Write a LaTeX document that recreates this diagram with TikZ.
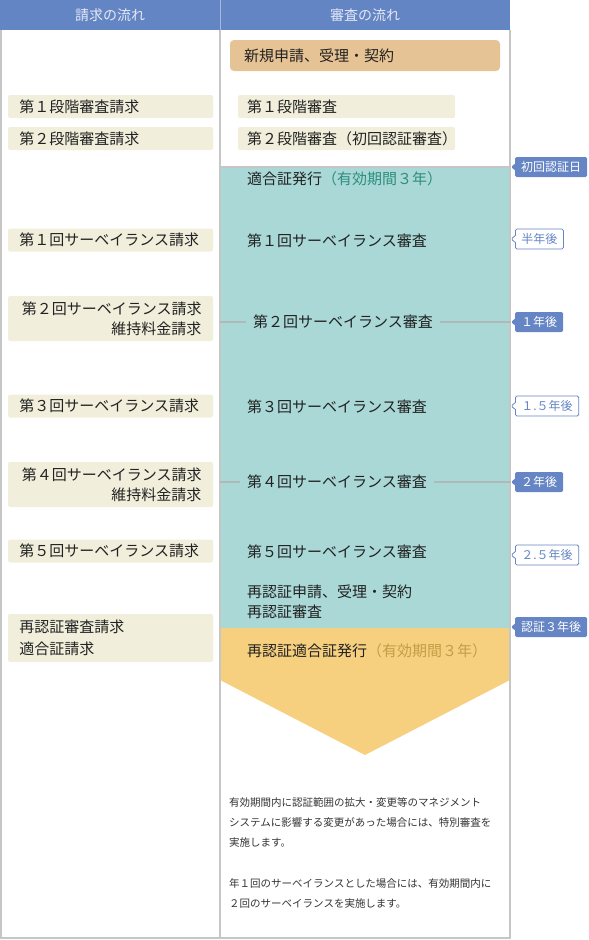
\documentclass[tikz,border=0pt]{standalone}
\usepackage{fontspec}
\setmainfont{Noto Sans CJK JP}
\usetikzlibrary{positioning,shapes.callouts}
\definecolor{hdrblue}{HTML}{6485C4}
\definecolor{hdrtext}{HTML}{E4E9F5}
\definecolor{framegray}{HTML}{C6C6C6}
\definecolor{beige}{HTML}{F1EFDC}
\definecolor{applyor}{HTML}{E5C394}
\definecolor{validteal}{HTML}{A9D8D6}
\definecolor{renewor}{HTML}{F6D07F}
\definecolor{tealtext}{HTML}{2E8E7E}
\definecolor{goldtext}{HTML}{C49E45}
\definecolor{linkgray}{HTML}{AFB9BA}
\definecolor{tagblue}{HTML}{6585C4}
\definecolor{ink}{HTML}{222222}
\definecolor{noteink}{HTML}{333333}
\tikzset{
  tblframe/.style = {draw=framegray, line width=1.3pt},
  hdrlabel/.style = {text=hdrtext, font=\fontsize{14}{16}\selectfont},
  reqbox/.style   = {fill=beige, rounded corners=2pt, minimum width=205pt, text width=182pt,
                     inner xsep=11.5pt, inner ysep=0pt, minimum height=23pt, align=left,
                     text=ink, font=\fontsize{15}{20}\selectfont},
  audbox/.style   = {fill=beige, rounded corners=2pt, text width=199pt, inner xsep=9pt,
                     inner ysep=0pt, minimum height=23pt, align=left, text=ink,
                     font=\fontsize{15}{20}\selectfont},
  applybox/.style = {fill=applyor, rounded corners=4pt, text width=242pt, inner xsep=14pt,
                     inner ysep=0pt, minimum height=31pt, align=left, text=ink,
                     font=\fontsize{15}{20}\selectfont},
  audtext/.style  = {anchor=west, inner xsep=7pt, inner ysep=0pt, align=left, text=ink,
                     font=\fontsize{15}{20}\selectfont},
  link/.style     = {draw=linkgray, line width=1.2pt},
  yeartag/.style  = {rectangle callout, callout pointer width=7pt, rounded corners=1.5pt,
                     minimum height=20pt, inner xsep=6pt, inner ysep=0pt, anchor=west,
                     font=\fontsize{12}{14}\selectfont},
  tagfill/.style  = {yeartag, fill=tagblue, text=white},
  tagline/.style  = {yeartag, draw=tagblue, line width=0.8pt, fill=white, text=tagblue},
  note/.style     = {anchor=north west, inner sep=0pt, align=left, text=noteink,
                     font=\fontsize{10.5}{20}\selectfont},
}
\begin{document}
\begin{tikzpicture}[x=1pt,y=-1pt]
  \useasboundingbox (0,0) rectangle (589,940);
  % header
  \fill[hdrblue] (0,0) rectangle (510,30);
  \draw[hdrtext!50!hdrblue, line width=1pt] (220,0) -- (220,30);
  \node[hdrlabel] (hreq) at (110,15) {請求の流れ};
  \node[hdrlabel] (haud) at (365,15) {審査の流れ};
  % validity period, renewal arrow
  \fill[validteal] (220,167) rectangle (510,628);
  \fill[renewor] (220,628) -- (510,628) -- (510,680) -- (365,755) -- (220,680) -- cycle;
  % frame
  \draw[tblframe] (1,30) -- (1,938) -- (510,938) -- (510,30);
  \draw[tblframe] (220,30) -- (220,938);
  \draw[tblframe] (220,167) -- (510,167);
  % requests
  \node[reqbox] (req1) at (110.5,106.5) {第１段階審査請求};
  \node[reqbox] (req2) at (110.5,138.5) {第２段階審査請求};
  \foreach \i/\d/\y in {1/１/240, 3/３/406, 5/５/551}
    \node[reqbox] (sreq\i) at (110.5,\y) {第\d 回サーベイランス請求};
  \foreach \i/\d/\y in {2/２/318.5, 4/４/484.5}
    \node[reqbox, align=right, minimum height=45pt] (sreq\i) at (110.5,\y)
      {第\d 回サーベイランス請求\\維持料金請求};
  \node[reqbox, minimum height=48pt, font=\fontsize{15}{22}\selectfont] (rreq) at (110.5,638)
    {再認証審査請求\\適合証請求};
  % audits
  \node[applybox] (apply) at (365,55.5) {新規申請、受理・契約};
  \node[audbox] (aud1) at (346.5,106.5) {第１段階審査};
  \node[audbox] (aud2) at (346.5,138.5) {\makebox[199pt][l]{第２段階審査（初回認証審査）}};
  \node[audtext] (issue) at (240,179) {適合証発行{\color{tealtext}（有効期間３年）}};
  \node[audtext] (surv1) at (240,241) {第１回サーベイランス審査};
  \node[audtext] (surv2) at (246,322) {第２回サーベイランス審査};
  \node[audtext] (surv3) at (240,407) {第３回サーベイランス審査};
  \node[audtext] (surv4) at (240,482) {第４回サーベイランス審査};
  \node[audtext] (surv5) at (240,552) {第５回サーベイランス審査};
  \node[audtext] (renew) at (240,602) {再認証申請、受理・契約\\再認証審査};
  \node[audtext] (reissue) at (240,651) {再認証適合証発行{\color{goldtext}（有効期間３年）}};
  % links to the yearly tags
  \coordinate (l2) at (220,322);
  \coordinate (l4) at (220,482);
  \foreach \n/\y in {p0/167, p1/239, p2/322, p3/406, p4/482, p5/555, p6/627}
    \coordinate (\n) at (511,\y);
  \draw[link] (l2) -- (surv2);
  \draw[link] (surv2) -- (p2);
  \draw[link] (l4) -- (surv4);
  \draw[link] (surv4) -- (p4);
  % tags
  \node[tagfill, callout absolute pointer={(p0)}] (tag0) at (515,167) {初回認証日};
  \node[tagline, callout absolute pointer={(p1)}] (tag1) at (515,239) {半年後};
  \node[tagfill, callout absolute pointer={(p2)}] (tag2) at (515,322) {１年後};
  \node[tagline, callout absolute pointer={(p3)}] (tag3) at (515,406) {１.５年後};
  \node[tagfill, callout absolute pointer={(p4)}] (tag4) at (515,482) {２年後};
  \node[tagline, callout absolute pointer={(p5)}] (tag5) at (515,555) {２.５年後};
  \node[tagfill, callout absolute pointer={(p6)}] (tag6) at (515,627) {認証３年後};
  % notes
  \node[note] (notes) at (229,797)
    {有効期間内に認証範囲の拡大・変更等のマネジメント\\
     システムに影響する変更があった場合には、特別審査を\\
     実施します。\\[21pt]
     年１回のサーベイランスとした場合には、有効期間内に\\
     ２回のサーベイランスを実施します。};
\end{tikzpicture}
\end{document}
